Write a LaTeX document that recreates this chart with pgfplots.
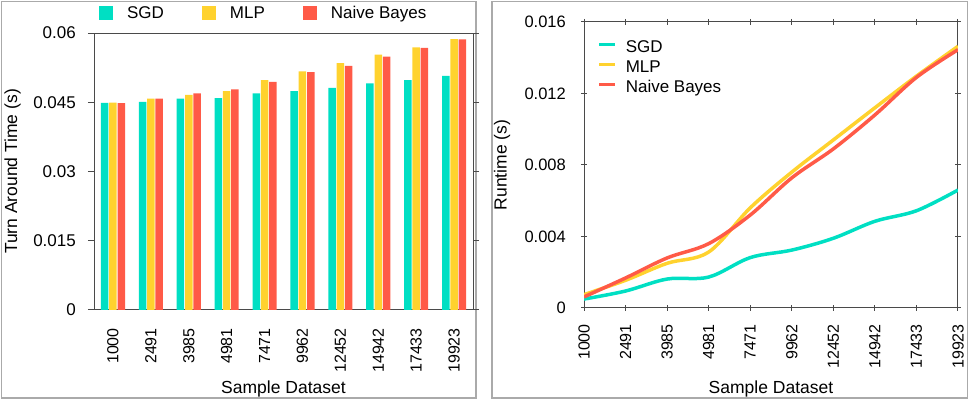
\documentclass[border=0pt]{standalone}
\usepackage{pgfplots}
\pgfplotsset{compat=1.18}
\usepackage{fontspec}
\setmainfont{Liberation Sans}
\definecolor{sgd}{HTML}{00DFC3}
\definecolor{mlp}{HTML}{FFD22E}
\definecolor{nb}{HTML}{FF5A47}
\definecolor{axgray}{HTML}{4A4A4A}
\definecolor{framegray}{HTML}{AAAAAA}
\begin{document}
\begin{tikzpicture}
\path[use as bounding box] (0pt,0pt) rectangle (969pt,401pt);
\draw[framegray, line width=1.2pt] (1.5pt,3pt) rectangle (476pt,399.5pt);
\draw[framegray, line width=1.2pt] (492pt,3pt) rectangle (967.5pt,399.5pt);

\begin{axis}[
  at={(94pt,91pt)}, anchor=south west, scale only axis,
  width=379pt, height=277pt,
  ybar=0.8pt, bar width=7.5pt,
  xmin=-0.5, xmax=9.5, ymin=0, ymax=0.06,
  xtick={0,...,9},
  xticklabels={1000,2491,3985,4981,7471,9962,12452,14942,17433,19923},
  ytick={0,0.015,0.03,0.045,0.06},
  yticklabels={0,0.015,0.03,0.045,0.06},
  scaled y ticks=false,
  axis line style={axgray, line width=1pt},
  xtick style={draw=none},
  ytick style={axgray, line width=1pt},
  tick align=outside, major tick length=6pt,
  yticklabel style={font=\fontsize{17}{19}\selectfont, inner xsep=0pt, xshift=-12pt},
  xticklabel style={yshift=-12pt, rotate=90, anchor=east, inner sep=0pt, font=\fontsize{16}{17}\selectfont},
  xlabel={Sample Dataset},
  ylabel={Turn Around Time (s)},
  every axis x label/.style={at={(axis description cs:0.5,-0.2852)}, anchor=center, font=\fontsize{17.5}{20}\selectfont},
  every axis y label/.style={at={(axis description cs:-0.215,0.5)}, rotate=90, anchor=center, font=\fontsize{17.5}{20}\selectfont},
  legend columns=3,
  legend style={draw=none, fill=none, at={(axis description cs:0.013,1.072)}, anchor=west,
    font=\fontsize{17}{20}\selectfont, inner sep=0pt,
    /tikz/every odd column/.append style={column sep=12pt},
    /tikz/every even column/.append style={column sep=36pt}},
  legend cell align=left,
  legend image code/.code={\fill[#1,draw=none] (0pt,-7pt) rectangle (14pt,7pt);},
]
\addplot[fill=sgd, draw=none] coordinates {(0,0.04486) (1,0.0451) (2,0.0458) (3,0.0459) (4,0.0469) (5,0.0474) (6,0.0481) (7,0.0491) (8,0.0498) (9,0.0507)};
\addplot[fill=mlp, draw=none] coordinates {(0,0.0449) (1,0.0458) (2,0.0466) (3,0.0474) (4,0.0498) (5,0.0517) (6,0.0535) (7,0.0553) (8,0.0569) (9,0.0587)};
\addplot[fill=nb, draw=none] coordinates {(0,0.04479) (1,0.0458) (2,0.0469) (3,0.0478) (4,0.0494) (5,0.0515) (6,0.0529) (7,0.0549) (8,0.0568) (9,0.0586)};
\legend{SGD,MLP,Naive Bayes}
\end{axis}

\begin{axis}[
  at={(584pt,93pt)}, anchor=south west, scale only axis,
  width=374pt, height=286pt,
  xmin=0, xmax=9, ymin=0, ymax=0.016,
  xtick={0,...,9},
  xticklabels={1000,2491,3985,4981,7471,9962,12452,14942,17433,19923},
  ytick={0,0.004,0.008,0.012,0.016},
  yticklabels={0,0.004,0.008,0.012,0.016},
  scaled y ticks=false,
  axis line style={axgray, line width=1pt},
  tick style={axgray, line width=1pt},
  tick align=center, major tick length=6pt,
  yticklabel style={font=\fontsize{16.5}{18}\selectfont, inner xsep=0pt, xshift=-15pt},
  xticklabel style={yshift=-13pt, rotate=90, anchor=east, inner sep=0pt, font=\fontsize{16}{17}\selectfont},
  xlabel={Sample Dataset},
  ylabel={Runtime (s)},
  every axis x label/.style={at={(axis description cs:0.5,-0.2832)}, anchor=center, font=\fontsize{17.5}{20}\selectfont},
  every axis y label/.style={at={(axis description cs:-0.219,0.5)}, rotate=90, anchor=center, font=\fontsize{17.5}{20}\selectfont},
  legend style={draw=none, fill=none, at={(axis description cs:0.035,0.935)}, anchor=north west,
    font=\fontsize{17}{20}\selectfont, inner sep=0pt, row sep=4.5pt,
    nodes={inner sep=0pt, text height=12pt, text depth=3.5pt},
    /tikz/every odd column/.append style={column sep=9pt}},
  legend cell align=left,
  legend image code/.code={\draw[#1] (0pt,4pt) -- (16pt,4pt);},
  every axis plot/.append style={line width=3.5pt, smooth, tension=0.55},
]
\addplot[sgd] coordinates {(0,0.0005) (1,0.00095) (2,0.00162) (3,0.00173) (4,0.00282) (5,0.00324) (6,0.0039) (7,0.00485) (8,0.00544) (9,0.0066)};
\addplot[mlp] coordinates {(0,0.00075) (1,0.00155) (2,0.0025) (3,0.00313) (4,0.0056) (5,0.0076) (6,0.0094) (7,0.0112) (8,0.01297) (9,0.01464)};
\addplot[nb] coordinates {(0,0.00062) (1,0.00168) (2,0.0028) (3,0.0036) (4,0.0052) (5,0.00728) (6,0.0089) (7,0.0108) (8,0.0129) (9,0.01445)};
\legend{SGD,MLP,Naive Bayes}
\end{axis}
\end{tikzpicture}
\end{document}
